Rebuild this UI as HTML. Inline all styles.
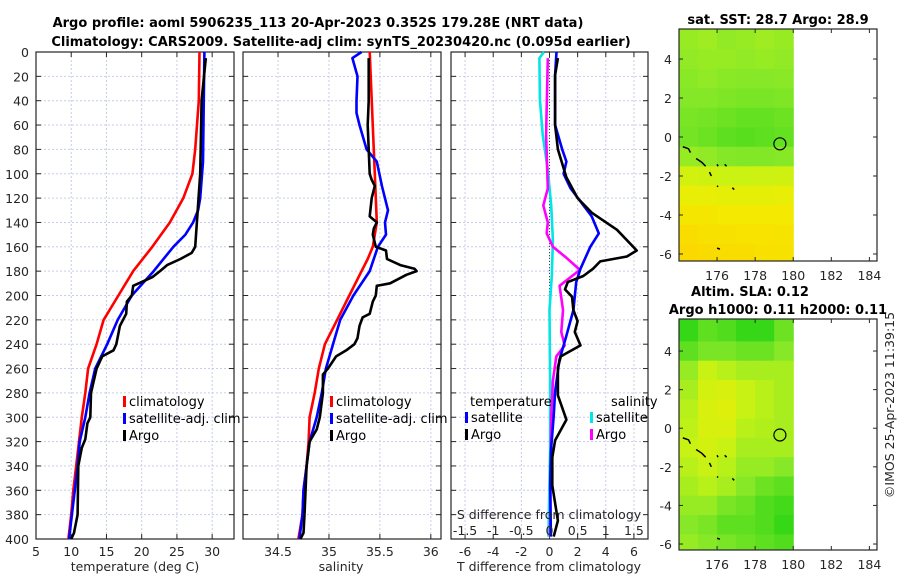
<!DOCTYPE html>
<html><head><meta charset="utf-8"><style>
html,body{margin:0;padding:0;background:#fff;}
svg{display:block;font-family:"DejaVu Sans","Liberation Sans",sans-serif;}
.tk{font-size:12.5px;fill:#262626;}
.ttl{font-size:13px;font-weight:bold;fill:#000;}
.lg{font-size:13px;fill:#000;}
</style></head><body>
<svg id="fig" width="900" height="580" viewBox="0 0 900 580">
<text class="ttl" x="318" y="27" text-anchor="middle">Argo profile: aoml 5906235_113 20-Apr-2023 0.352S 179.28E (NRT data)</text>
<text class="ttl" x="341" y="46" text-anchor="middle">Climatology: CARS2009. Satellite-adj clim: synTS_20230420.nc (0.095d earlier)</text>
<text class="ttl" x="778" y="24" text-anchor="middle">sat. SST: 28.7 Argo: 28.9</text>
<text class="ttl" x="750" y="296" text-anchor="middle">Altim. SLA: 0.12</text>
<text class="ttl" x="778" y="314" text-anchor="middle">Argo h1000: 0.11 h2000: 0.11</text>
<text class="tk" transform="translate(894,405) rotate(-90)" text-anchor="middle">©IMOS 25-Apr-2023 11:39:15</text>
<g id="plots"></g>
</svg>
<script>
// ---- depth profile data ----
const depthTicks=[0,20,40,60,80,100,120,140,160,180,200,220,240,260,280,300,320,340,360,380,400];
const tTicks=[5,10,15,20,25,30];
const sTicks=[34.5,35,35.5,36];
const dTTicks=[-6,-4,-2,0,2,4,6];
const dSTickLabels=["-1.5","-1","-0.5","0","0.5","1","1.5"];
const dSTicks=[-1.5,-1,-0.5,0,0.5,1,1.5];

const tClimDepth=[0,40,80,100,120,140,160,180,200,220,240,260,280,300,320,340,360,380,400];
const tClim=[28.2,28.1,27.6,27.2,25.9,24.0,21.5,18.8,16.7,14.6,13.6,12.4,12.0,11.5,11.1,10.7,10.3,10.0,9.6];
const tSatDepth=[0,90,120,130,140,150,160,180,200,220,240,260,280,300,320,340,360,380,400];
const tSat=[28.9,28.7,28.3,28.0,27.3,26.2,24.5,21.7,18.6,16.6,15.1,13.4,12.6,12.0,11.2,10.9,10.5,10.1,9.7];
const tArgoDepth=[5,40,100,160,165,170,175,180,185,192,200,205,215,225,240,245,250,260,280,300,305,318,325,340,380,395,400];
const tArgo=[29.1,28.5,28.3,27.6,27.1,25.5,23.6,22.6,21.5,18.8,18.6,17.9,17.8,16.9,16.4,16.0,14.4,13.6,12.8,12.7,12.3,12.0,11.5,11.0,10.9,10.4,10.0];

const sClimDepth=[0,100,140,160,170,180,200,220,240,260,280,300,320,340,360,380,400];
const sClim=[35.40,35.45,35.47,35.43,35.38,35.32,35.20,35.08,34.96,34.90,34.86,34.81,34.80,34.78,34.75,34.74,34.70];
const sSatDepth=[0,5,20,40,50,60,80,90,110,130,140,150,160,180,200,220,240,260,280,300,320,340,360,380,400];
const sSat=[35.32,35.23,35.28,35.27,35.27,35.30,35.37,35.47,35.52,35.58,35.55,35.56,35.48,35.40,35.24,35.11,35.04,34.97,34.93,34.88,34.81,34.78,34.75,34.74,34.71];
const sArgoDepth=[5,40,60,100,105,110,120,135,140,145,150,160,163,170,175,178,180,183,190,192,200,205,215,218,225,235,240,245,250,260,265,280,300,310,320,340,380,395,400];
const sArgo=[35.39,35.39,35.38,35.40,35.42,35.45,35.42,35.40,35.47,35.44,35.43,35.46,35.56,35.57,35.70,35.84,35.86,35.76,35.60,35.47,35.46,35.43,35.40,35.33,35.30,35.28,35.25,35.17,35.07,34.99,34.94,34.94,34.91,34.88,34.81,34.78,34.76,34.75,34.72];

const dTSatDepth=[0,19,60,80,90,100,112,135,149,160,178,189,212,233,253,279,299,328,356,398];
const dTSat=[0.5,0.4,0.4,0.9,1.2,1.0,1.5,3.0,3.5,2.9,2.2,1.9,1.7,1.2,0.7,0.4,0.3,0.1,0.05,0.1];
const dTArgoDepth=[5,19,60,80,103,120,132,146,163,168,172,178,184,189,195,201,212,221,230,241,250,259,282,302,319,333,356,385,398];
const dTArgo=[0.6,0.4,0.4,0.6,1.2,2.0,3.0,4.8,6.2,5.5,3.6,3.1,2.4,1.3,1.1,1.6,1.7,2.0,1.8,2.2,0.8,0.6,0.6,1.2,0.4,0.2,0.2,0.6,0.3];
const dSSatDepth=[0,5,39,68,97,126,155,184,212,270,328,398];
const dSSat=[-0.1,-0.18,-0.17,-0.12,-0.03,0.03,0.06,0.04,0.0,0.01,0.01,-0.02];
const dSArgoDepth=[5,68,112,126,140,149,160,169,179,192,212,230,241,250,270,299,398];
const dSArgo=[-0.03,-0.06,-0.03,-0.11,-0.03,-0.05,0.06,0.3,0.54,0.18,0.24,0.21,0.27,0.12,0.06,0.03,0.01];

// ---- map data (rows lat 5..-6, cols lon 174.5..179.5) ----
const mapLonTicks=[176,178,180,182,184];
const mapLatTicks=[4,2,0,-2,-4,-6];
const sstGrid=[
[.40,.42,.38,.40,.42,.40],[.38,.40,.40,.38,.40,.38],[.36,.38,.36,.35,.35,.36],
[.34,.34,.32,.30,.30,.32],[.30,.28,.25,.22,.22,.25],[.28,.25,.20,.18,.20,.22],
[.40,.38,.34,.33,.33,.35],[.60,.58,.56,.56,.57,.58],[.70,.70,.69,.69,.69,.70],
[.80,.80,.78,.78,.78,.78],[.88,.86,.85,.84,.84,.82],[.92,.90,.88,.88,.86,.85]];
const slaGrid=[
[.05,.20,.15,.05,.05,.25],[.20,.30,.30,.25,.25,.35],[.40,.55,.50,.45,.45,.45],
[.45,.60,.62,.55,.50,.45],[.50,.62,.65,.55,.50,.45],[.52,.62,.62,.50,.48,.45],
[.55,.60,.55,.45,.45,.45],[.50,.55,.50,.40,.40,.35],[.45,.50,.45,.35,.25,.20],
[.40,.40,.30,.25,.15,.10],[.35,.30,.20,.20,.15,.05],[.40,.35,.30,.25,.20,.15]];
const floatLon=179.3, floatLat=-0.35;

const NS="http://www.w3.org/2000/svg";
const root=document.getElementById('plots');
function mk(tag,attrs,parent){const e=document.createElementNS(NS,tag);for(const k in attrs)e.setAttribute(k,attrs[k]);(parent||root).appendChild(e);return e;}

const Y0=52,Y1=539;
const yD=d=>Y0+(d/400)*(Y1-Y0);

function panel(name,x0,x1,xmin,xmax,xt,xtLabels){
  const g=mk('g',{});
  
  
  const sx=v=>x0+(v-xmin)/(xmax-xmin)*(x1-x0);
  xt.forEach((v,i)=>{const gl=mk('line',{x1:sx(v),x2:sx(v),y1:Y0,y2:Y1,stroke:'#c8cde8','stroke-width':1,'stroke-dasharray':'2,2'},g);
    
    mk('line',{x1:sx(v),x2:sx(v),y1:Y1,y2:Y1-5,stroke:'#262626'},g);mk('line',{x1:sx(v),x2:sx(v),y1:Y0,y2:Y0+5,stroke:'#262626'},g);
    const t=mk('text',{x:sx(v),y:Y1+17,'text-anchor':'middle',class:'tk'},g);t.textContent=xtLabels?xtLabels[i]:v;
    });
  depthTicks.forEach(d=>{const gl=mk('line',{x1:x0,x2:x1,y1:yD(d),y2:yD(d),stroke:'#c8cde8','stroke-width':1,'stroke-dasharray':'2,2'},g);
    
    mk('line',{x1:x0,x2:x0+5,y1:yD(d),y2:yD(d),stroke:'#262626'},g);mk('line',{x1:x1,x2:x1-5,y1:yD(d),y2:yD(d),stroke:'#262626'},g);});
  mk('rect',{x:x0,y:Y0,width:x1-x0,height:Y1-Y0,fill:'none',stroke:'#262626','stroke-width':1.2},g);
  return {g,sx};
}
function series(p,name,vals,depths,color,sx){
  const pts=vals.map((v,i)=>sx(v).toFixed(1)+','+yD(depths[i]).toFixed(1)).join(' ');
  const l=mk('polyline',{points:pts,fill:'none',stroke:color,'stroke-width':2.6,'stroke-linejoin':'round'},p.g);
  
  
}
function legend(g,x,y,items){
  items.forEach((it,i)=>{mk('rect',{x:x,y:y+i*17-10,width:3,height:11,fill:it[1]},g);
    const t=mk('text',{x:x+6,y:y+i*17,class:'lg'},g);t.textContent=it[0];
    });
}

depthTicks.forEach(d=>{const t=mk('text',{x:29,y:yD(d)+5,'text-anchor':'end',class:'tk'});t.textContent=d;
  });

const p1=panel('temperature-panel',36,234,5,33.1,tTicks);
series(p1,'temp-climatology-line',tClim,tClimDepth,'#ff0000',p1.sx);
series(p1,'temp-satellite-line',tSat,tSatDepth,'#0000ff',p1.sx);
series(p1,'temp-argo-line',tArgo,tArgoDepth,'#000000',p1.sx);
legend(p1.g,123,406,[['climatology','#ff0000'],['satellite-adj. clim','#0000ff'],['Argo','#000']]);
let t=mk('text',{x:135,y:571,'text-anchor':'middle',class:'tk'});t.textContent='temperature (deg C)';


const p2=panel('salinity-panel',243,441,34.156,36.1,sTicks);
series(p2,'sal-climatology-line',sClim,sClimDepth,'#ff0000',p2.sx);
series(p2,'sal-satellite-line',sSat,sSatDepth,'#0000ff',p2.sx);
series(p2,'sal-argo-line',sArgo,sArgoDepth,'#000000',p2.sx);
legend(p2.g,330,406,[['climatology','#ff0000'],['satellite-adj. clim','#0000ff'],['Argo','#000']]);
t=mk('text',{x:341,y:571,'text-anchor':'middle',class:'tk'});t.textContent='salinity';


const p3=panel('difference-panel',451,648,-7,7,dTTicks);
const sxS=v=>451+(v+1.75)/3.5*197;
mk('line',{x1:p3.sx(0),x2:p3.sx(0),y1:Y0+5,y2:Y1,stroke:'#444','stroke-width':1,'stroke-dasharray':'1,2'},p3.g);
series(p3,'dS-satellite-line',dSSat,dSSatDepth,'#00e5e5',sxS);
series(p3,'dS-argo-line',dSArgo,dSArgoDepth,'#ff00ff',sxS);
series(p3,'dT-satellite-line',dTSat,dTSatDepth,'#0000ff',p3.sx);
series(p3,'dT-argo-line',dTArgo,dTArgoDepth,'#000000',p3.sx);
t=mk('text',{x:470,y:406,class:'lg'},p3.g);t.textContent='temperature';

t=mk('text',{x:611,y:406,class:'lg'},p3.g);t.textContent='salinity';

legend(p3.g,465,422,[['satellite','#0000ff'],['Argo','#000']]);
legend(p3.g,590,422,[['satellite','#00e5e5'],['Argo','#ff00ff']]);
t=mk('text',{x:549,y:519,'text-anchor':'middle',class:'tk'});t.textContent='S difference from climatology';

dSTicks.forEach((v,i)=>{const tt=mk('text',{x:sxS(v),y:535,'text-anchor':'middle',class:'tk'});tt.textContent=dSTickLabels[i];
  });
t=mk('text',{x:549,y:571,'text-anchor':'middle',class:'tk'});t.textContent='T difference from climatology';


const stops=[[0,[40,212,20]],[0.35,[135,232,40]],[0.55,[200,242,20]],[0.75,[242,236,0]],[1,[255,208,0]]];
function cmap(v){for(let i=1;i<stops.length;i++){if(v<=stops[i][0]){const a=stops[i-1],b=stops[i];const f=(v-a[0])/(b[0]-a[0]);
  const c=a[1].map((x,k)=>Math.round(x+(b[1][k]-x)*f));return 'rgb('+c.join(',')+')';}}return 'rgb(255,208,0)';}
const coast=[[[174.2,-0.5],[174.5,-0.6],[174.6,-0.8]],[[174.9,-1.1],[175.2,-1.3],[175.4,-1.5]],[[175.6,-1.8],[175.7,-2.0]],[[176.0,-1.4],[176.05,-1.5]],[[176.4,-1.4],[176.5,-1.5]],[[176.8,-2.6],[176.9,-2.7]],[[176.0,-5.7],[176.15,-5.75]],[[176.0,-2.5],[176.05,-2.55]]];
function map(name,y0,y1,latMax,latMin,grid){
  const x0=679,x1=877,lonMin=174.0,lonMax=184.4;
  const sx=v=>x0+(v-lonMin)/(lonMax-lonMin)*(x1-x0);
  const sy=v=>y0+(latMax-v)/(latMax-latMin)*(y1-y0);
  const g=mk('g',{});
  
  
  const cid=name+'-clip';
  const cp=mk('clipPath',{id:cid},g);mk('rect',{x:x0,y:y0,width:x1-x0,height:y1-y0},cp);
  const cg=mk('g',{'clip-path':'url(#'+cid+')'},g);
  grid.forEach((row,r)=>row.forEach((v,c)=>{const lat=5-r,lon=174.5+c;
    const top=(r===0)?latMax+0.5:lat+0.5, bot=(r===grid.length-1)?latMin-0.5:lat-0.5;
    const cell=mk('rect',{x:sx(lon-0.5).toFixed(1),y:sy(top).toFixed(1),width:(sx(lon+0.5)-sx(lon-0.5)+0.6).toFixed(1),height:(sy(bot)-sy(top)+0.6).toFixed(1),fill:cmap(v)},cg);
    }));
  coast.forEach(seg=>{mk('polyline',{points:seg.map(p=>sx(p[0])+','+sy(p[1])).join(' '),fill:'none',stroke:'#000','stroke-width':1.5},cg);});
  const ci=mk('circle',{cx:sx(floatLon),cy:sy(floatLat),r:6,fill:'none',stroke:'#000','stroke-width':1.2},g);
  
  mk('rect',{x:x0,y:y0,width:x1-x0,height:y1-y0,fill:'none',stroke:'#262626','stroke-width':1.2},g);
  mapLonTicks.forEach(v=>{mk('line',{x1:sx(v),x2:sx(v),y1:y1,y2:y1-4,stroke:'#262626'},g);mk('line',{x1:sx(v),x2:sx(v),y1:y0,y2:y0+4,stroke:'#262626'},g);
    const tt=mk('text',{x:sx(v),y:y1+19,'text-anchor':'middle',class:'tk'},g);tt.textContent=v;
    });
  mapLatTicks.forEach(v=>{mk('line',{x1:x0,x2:x0+4,y1:sy(v),y2:sy(v),stroke:'#262626'},g);mk('line',{x1:x1,x2:x1-4,y1:sy(v),y2:sy(v),stroke:'#262626'},g);
    const tt=mk('text',{x:672,y:sy(v)+5,'text-anchor':'end',class:'tk'},g);tt.textContent=v;
    });
}
map('sst-map',29,261,5.54,-6.36,sstGrid);
map('sla-map',319,550,5.66,-6.31,slaGrid);
</script>
</body></html>
